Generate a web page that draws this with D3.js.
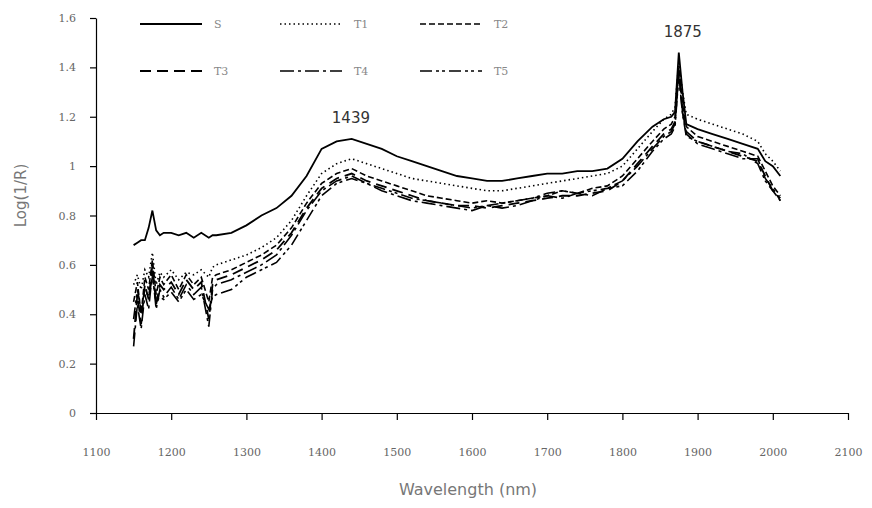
<!DOCTYPE html>
<html>
<head>
<meta charset="utf-8">
<script src="https://cdn.jsdelivr.net/npm/d3@7"></script>
<style>
    body { margin: 0; background: #fff; }
    .axis path, .axis line { stroke: #000; stroke-width: 1.2; }
    .axis text { font-family: "DejaVu Serif", serif; font-size: 11px; fill: #666; }
    .lbl { font-family: "DejaVu Sans", sans-serif; fill: #777; }
</style>
</head>
<body>
<div id="chart"></div>
<script>
// wavelength (nm)
const wavelengths = [1150, 1155, 1160, 1165, 1170, 1175, 1180, 1185, 1190, 1200,
    1210, 1220, 1230, 1240, 1250, 1255, 1260, 1280, 1300, 1320,
    1340, 1360, 1380, 1400, 1420, 1440, 1460, 1480, 1500, 1520,
    1540, 1560, 1580, 1600, 1620, 1640, 1660, 1680, 1700, 1720,
    1740, 1760, 1780, 1800, 1820, 1840, 1855, 1865, 1870, 1875,
    1880, 1885, 1900, 1920, 1940, 1960, 1980, 1990, 2000, 2010];

const seriesNames = ["S", "T1", "T2", "T3", "T4", "T5"];

const valuesS = [0.68, 0.69, 0.70, 0.70, 0.75, 0.82, 0.74, 0.72, 0.73, 0.73,
    0.72, 0.73, 0.71, 0.73, 0.71, 0.72, 0.72, 0.73, 0.76, 0.80,
    0.83, 0.88, 0.96, 1.07, 1.10, 1.11, 1.09, 1.07, 1.04, 1.02,
    1.00, 0.98, 0.96, 0.95, 0.94, 0.94, 0.95, 0.96, 0.97, 0.97,
    0.98, 0.98, 0.99, 1.03, 1.10, 1.16, 1.19, 1.20, 1.22, 1.46,
    1.30, 1.17, 1.15, 1.13, 1.11, 1.09, 1.07, 1.02, 1.00, 0.96];

const valuesT1 = [0.52, 0.56, 0.50, 0.58, 0.55, 0.65, 0.52, 0.57, 0.55, 0.58,
    0.54, 0.57, 0.56, 0.58, 0.55, 0.59, 0.60, 0.62, 0.64, 0.67,
    0.71, 0.78, 0.88, 0.97, 1.01, 1.03, 1.01, 0.99, 0.97, 0.95,
    0.94, 0.93, 0.92, 0.91, 0.90, 0.90, 0.91, 0.92, 0.93, 0.94,
    0.95, 0.96, 0.97, 1.00, 1.07, 1.14, 1.19, 1.21, 1.24, 1.42,
    1.30, 1.21, 1.19, 1.17, 1.15, 1.13, 1.10, 1.05, 1.02, 0.98];

const valuesT2 = [0.45, 0.53, 0.40, 0.55, 0.50, 0.62, 0.48, 0.55, 0.52, 0.56,
    0.50, 0.56, 0.52, 0.55, 0.45, 0.55, 0.56, 0.58, 0.61, 0.64,
    0.68, 0.75, 0.85, 0.93, 0.97, 0.99, 0.96, 0.94, 0.92, 0.90,
    0.88, 0.87, 0.86, 0.85, 0.86, 0.85, 0.86, 0.87, 0.88, 0.90,
    0.89, 0.91, 0.92, 0.96, 1.03, 1.10, 1.15, 1.17, 1.20, 1.40,
    1.25, 1.16, 1.12, 1.10, 1.08, 1.06, 1.04, 0.98, 0.92, 0.88];

const valuesT3 = [0.30, 0.48, 0.36, 0.52, 0.46, 0.60, 0.44, 0.52, 0.50, 0.53,
    0.48, 0.54, 0.50, 0.53, 0.38, 0.52, 0.54, 0.56, 0.59, 0.62,
    0.66, 0.73, 0.83, 0.91, 0.95, 0.97, 0.94, 0.92, 0.90, 0.88,
    0.86, 0.85, 0.84, 0.84, 0.83, 0.84, 0.85, 0.86, 0.87, 0.88,
    0.88, 0.89, 0.90, 0.94, 1.01, 1.08, 1.13, 1.15, 1.18, 1.38,
    1.22, 1.14, 1.10, 1.08, 1.06, 1.04, 1.02, 0.96, 0.90, 0.87];

const valuesT4 = [0.27, 0.44, 0.34, 0.48, 0.42, 0.57, 0.42, 0.50, 0.47, 0.51,
    0.46, 0.52, 0.48, 0.51, 0.35, 0.50, 0.52, 0.54, 0.57, 0.60,
    0.64, 0.72, 0.82, 0.90, 0.94, 0.96, 0.93, 0.90, 0.88, 0.86,
    0.85, 0.84, 0.83, 0.82, 0.84, 0.83, 0.84, 0.86, 0.88, 0.87,
    0.89, 0.88, 0.91, 0.94, 1.00, 1.07, 1.12, 1.14, 1.17, 1.39,
    1.22, 1.13, 1.09, 1.07, 1.05, 1.03, 1.03, 0.95, 0.91, 0.86];

const valuesT5 = [0.38, 0.50, 0.42, 0.50, 0.47, 0.55, 0.45, 0.47, 0.46, 0.49,
    0.45, 0.50, 0.46, 0.48, 0.42, 0.47, 0.48, 0.50, 0.55, 0.58,
    0.61, 0.68, 0.78, 0.88, 0.93, 0.95, 0.93, 0.91, 0.89, 0.87,
    0.86, 0.85, 0.84, 0.83, 0.84, 0.85, 0.86, 0.87, 0.89, 0.90,
    0.89, 0.90, 0.91, 0.92, 0.98, 1.06, 1.11, 1.13, 1.16, 1.37,
    1.21, 1.12, 1.10, 1.08, 1.06, 1.05, 1.01, 0.94, 0.90, 0.86];

const xTicks = [1100, 1200, 1300, 1400, 1500, 1600, 1700, 1800, 1900, 2000, 2100];
const yTicks = [0, 0.2, 0.4, 0.6, 0.8, 1, 1.2, 1.4, 1.6];
const peakLabels = [{w: 1439, v: 1.11, text: "1439"}, {w: 1875, v: 1.46, text: "1875"}];

let allValues = [valuesS, valuesT1, valuesT2, valuesT3, valuesT4, valuesT5];
let dashes = ["none", "1.5,3", "6,3", "11,6", "14,4,3,4", "12,4,3,3,3,4"];
let widths = [1.8, 1.6, 1.6, 1.8, 1.6, 1.6];

let margin = {top: 18, right: 24, bottom: 95, left: 96};
let width = 872 - margin.left - margin.right;
let height = 508 - margin.top - margin.bottom;

let svg = d3.select("#chart").append("svg")
    .attr("width", 872)
    .attr("height", 508)
    .append("g")
    .attr("transform", "translate(" + margin.left + "," + margin.top + ")");

let x = d3.scaleLinear().domain([1100, 2100]).range([0, width]);
let y = d3.scaleLinear().domain([0, 1.6]).range([height, 0]);

svg.append("g")
    .attr("class", "x-axis axis")
    .attr("transform", "translate(0," + height + ")")
    .call(d3.axisBottom(x).tickValues(xTicks).tickSize(7).tickSizeOuter(0).tickPadding(28).tickFormat(d3.format("d")));

svg.append("g")
    .attr("class", "y-axis axis")
    .call(d3.axisLeft(y).tickValues(yTicks).tickSize(6).tickSizeOuter(0).tickPadding(14).tickFormat(d => d === 0 || d === 1 ? d : d3.format(".1f")(d)));

// spectra
let line = d3.line()
    .x((d, i) => x(wavelengths[i]))
    .y(d => y(d));

svg.selectAll(".spectrum")
    .data(allValues)
    .enter().append("path")
    .attr("class", "spectrum")
    .attr("d", d => line(d))
    .attr("fill", "none")
    .attr("stroke", "#000")
    .attr("stroke-width", (d, i) => widths[i])
    .attr("stroke-dasharray", (d, i) => dashes[i]);

// peak annotations
svg.selectAll(".peak")
    .data(peakLabels)
    .enter().append("text")
    .attr("class", "peak")
    .attr("x", d => x(d.w) + (d.w === 1439 ? 0 : 4))
    .attr("y", d => y(d.v) - 16)
    .attr("text-anchor", "middle")
    .attr("font-family", "DejaVu Sans, sans-serif")
    .attr("font-size", "15px")
    .attr("fill", "#333")
    .text(d => d.text);

// legend, 2 rows x 3 cols
let legend = svg.append("g").attr("class", "legend");
seriesNames.forEach((name, i) => {
    let col = i % 3, row = Math.floor(i / 3);
    let lx = 44 + col * 140, ly = 6 + row * 47;
    legend.append("line")
        .attr("x1", lx).attr("x2", lx + 62)
        .attr("y1", ly).attr("y2", ly)
        .attr("stroke", "#000")
        .attr("stroke-width", widths[i])
        .attr("stroke-dasharray", dashes[i]);
    legend.append("text")
        .attr("x", lx + 74)
        .attr("y", ly + 4)
        .attr("font-family", "DejaVu Serif, serif")
        .attr("font-size", "11px")
        .attr("fill", "#888")
        .text(name);
});

svg.append("text")
    .attr("class", "lbl")
    .attr("x", width / 2 - 4)
    .attr("y", height + 82)
    .attr("text-anchor", "middle")
    .attr("font-size", "16px")
    .text("Wavelength (nm)");

svg.append("text")
    .attr("class", "lbl")
    .attr("transform", "translate(-70," + (height / 2 - 20) + ") rotate(-90)")
    .attr("text-anchor", "middle")
    .attr("font-size", "15px")
    .text("Log(1/R)");
</script>
</body>
</html>
